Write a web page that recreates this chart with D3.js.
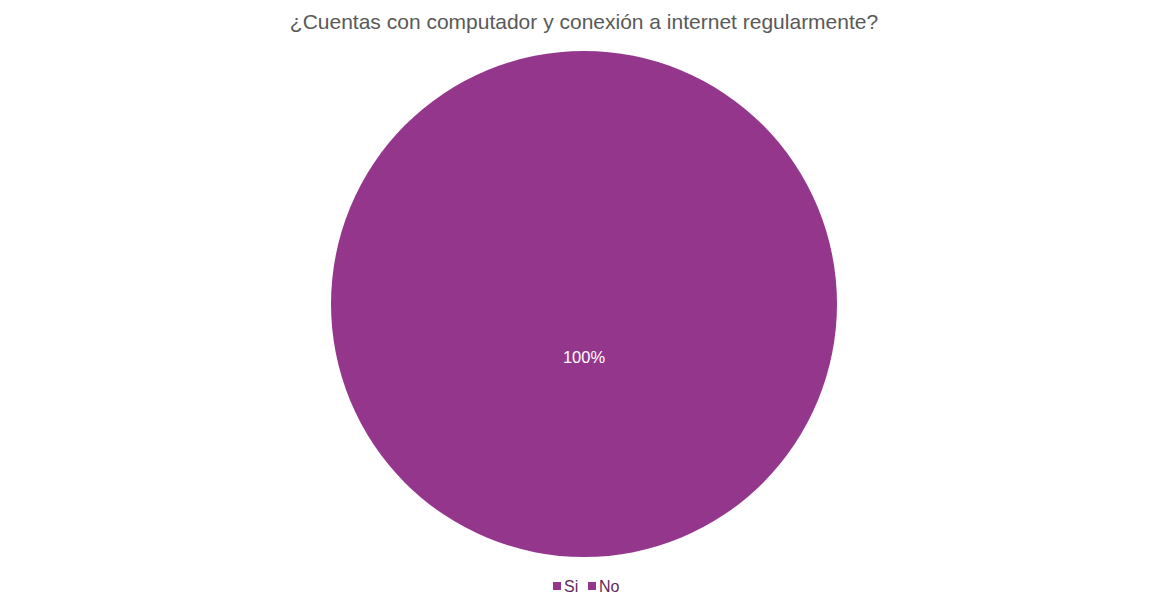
<!DOCTYPE html>
<html>
<head>
<meta charset="utf-8">
<script src="https://cdn.jsdelivr.net/npm/d3@7"></script>
<style>
html,body{margin:0;padding:0;background:#fff;}
svg{display:block;}
</style>
</head>
<body>
<svg id="chart" width="1171" height="607"></svg>
<script>
const title = "¿Cuentas con computador y conexión a internet regularmente?";
const categories = ["Si", "No"];
const values = [100, 0];
const colors = ["#94368c", "#94368c"];

const svg = d3.select("#chart");
const cx = 584, cy = 304, R = 253;

svg.append("text")
  .attr("x", 584).attr("y", 29)
  .attr("text-anchor", "middle")
  .attr("font-family", "Liberation Sans, Arial, sans-serif")
  .attr("font-size", 21)
  .attr("fill", "#595959")
  .text(title);

const data = categories.map((c, i) => ({cat: c, value: values[i], color: colors[i]}));
const pie = d3.pie().value(d => d.value).sort(null);
const arcs = pie(data);
const arc = d3.arc().innerRadius(0).outerRadius(R);
const labelArc = d3.arc().innerRadius(R * 0.21).outerRadius(R * 0.21);
const total = d3.sum(values);

const g = svg.append("g").attr("transform", `translate(${cx},${cy})`);
g.selectAll("path.slice").data(arcs.filter(d => d.value > 0)).join("path")
  .attr("class", "slice")
  .attr("d", arc)
  .attr("fill", d => d.data.color);

g.selectAll("text.lbl").data(arcs.filter(d => d.value > 0)).join("text")
  .attr("class", "lbl")
  .attr("transform", d => `translate(${labelArc.centroid(d)})`)
  .attr("text-anchor", "middle")
  .attr("dy", "0.35em")
  .attr("font-family", "Liberation Sans, Arial, sans-serif")
  .attr("font-size", 16.5)
  .attr("fill", "#ffffff")
  .text(d => Math.round(d.value / total * 100) + "%");

// legend
const legend = svg.append("g").attr("transform", "translate(553,586)");
const offsets = [0, 35];
const items = legend.selectAll("g").data(data).join("g")
  .attr("transform", (d, i) => `translate(${offsets[i]},0)`);
items.append("rect")
  .attr("x", 0).attr("y", -4).attr("width", 8).attr("height", 8)
  .attr("fill", d => d.color);
items.append("text")
  .attr("x", 11).attr("y", 0).attr("dy", "0.35em")
  .attr("font-family", "Liberation Sans, Arial, sans-serif")
  .attr("font-size", 16)
  .attr("fill", "#5f2a5b")
  .text(d => d.cat);
</script>
</body>
</html>
